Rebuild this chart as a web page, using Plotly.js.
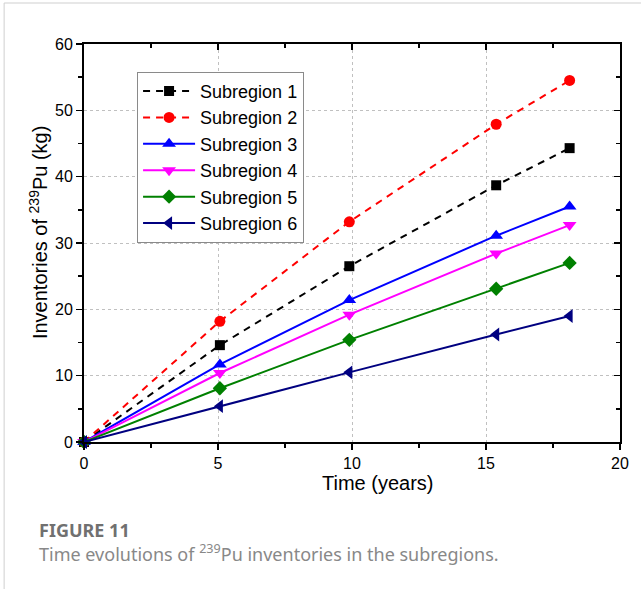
<!DOCTYPE html>
<html>
<head>
<meta charset="utf-8">
<script src="https://cdn.plot.ly/plotly-3.0.1.min.js"></script>
<style>
html,body{margin:0;padding:0;background:#fff;}
#chart{width:641px;height:589px;}
</style>
</head>
<body>
<div id="chart"></div>
<script>
// Data
const time = [0, 5.07, 9.9, 15.38, 18.12];
const seriesNames = ["Subregion 1", "Subregion 2", "Subregion 3", "Subregion 4", "Subregion 5", "Subregion 6"];
const sub1 = [0, 14.6, 26.5, 38.7, 44.3];
const sub2 = [0, 18.2, 33.2, 47.9, 54.5];
const sub3 = [0, 11.7, 21.4, 31.1, 35.5];
const sub4 = [0, 10.4, 19.2, 28.4, 32.7];
const sub5 = [0, 8.1, 15.4, 23.1, 27.0];
const sub6 = [0, 5.4, 10.5, 16.2, 19.0];
const xTicks = [0, 5, 10, 15, 20];
const yTicks = [0, 10, 20, 30, 40, 50, 60];
const xTitle = "Time (years)";
const yTitle = "Inventories of <sup>239</sup>Pu (kg)";

const allY = [sub1, sub2, sub3, sub4, sub5, sub6];
const colors = ["#000000", "#ff0000", "#0000ff", "#ff00ff", "#008000", "#000080"];
const symbols = ["square", "circle", "triangle-up", "triangle-down", "diamond", "triangle-left"];
const dashes = ["7px,6px", "7px,6px", "solid", "solid", "solid", "solid"];
const sizes = [10, 11, 12, 12, 11, 12];

const traces = allY.map((ys, i) => ({
  x: time, y: ys, name: seriesNames[i], type: "scatter", mode: "lines+markers",
  line: {color: colors[i], width: 2, dash: dashes[i]},
  marker: {color: colors[i], symbol: symbols[i], size: sizes[i]},
  cliponaxis: false
}));
// invisible trace to create mirrored top/right axes
traces.push({x: [0], y: [0], xaxis: "x2", yaxis: "y2", mode: "markers",
  marker: {opacity: 0}, showlegend: false, hoverinfo: "skip"});

const font = "Liberation Sans, Arial, sans-serif";
const capFont = "Noto Sans, Open Sans, sans-serif";

const layout = {
  width: 641, height: 589,
  margin: {l: 84, r: 21, t: 44, b: 147},
  paper_bgcolor: "#ffffff", plot_bgcolor: "#ffffff",
  showlegend: true,
  legend: {x: 0.099, y: 0.93, xanchor: "left", yanchor: "top",
    bgcolor: "#ffffff", bordercolor: "#8a8a8a", borderwidth: 1, itemwidth: 52,
    font: {family: font, size: 18, color: "#000"}, tracegroupgap: 0},
  xaxis: {range: [0, 20], tickvals: xTicks, ticktext: xTicks.map(String),
    ticks: "outside", ticklen: 6, tickwidth: 1.5, tickcolor: "#000",
    showline: true, linecolor: "#000", linewidth: 2, zeroline: false,
    showgrid: true, gridcolor: "#c0c0c0", griddash: "3px,3px", gridwidth: 1,
    minor: {dtick: 2.5, tick0: 0, ticks: "outside", ticklen: 4, tickwidth: 1.5, tickcolor: "#000", showgrid: false},
    tickfont: {family: font, size: 16, color: "#000"}},
  yaxis: {range: [0, 60], tickvals: yTicks, ticktext: yTicks.map(String),
    ticks: "outside", ticklen: 6, tickwidth: 1.5, tickcolor: "#000",
    showline: true, linecolor: "#000", linewidth: 2, zeroline: false,
    showgrid: true, gridcolor: "#c0c0c0", griddash: "3px,3px", gridwidth: 1,
    minor: {dtick: 5, tick0: 0, ticks: "outside", ticklen: 4, tickwidth: 1.5, tickcolor: "#000", showgrid: false},
    tickfont: {family: font, size: 16, color: "#000"}},
  xaxis2: {overlaying: "x", side: "top", range: [0, 20], tickvals: xTicks,
    showticklabels: false, ticks: "inside", ticklen: 6, tickwidth: 1.5, tickcolor: "#000",
    minor: {dtick: 2.5, tick0: 0, ticks: "inside", ticklen: 4, tickwidth: 1.5, tickcolor: "#000", showgrid: false},
    showline: true, linecolor: "#000", linewidth: 2, showgrid: false, zeroline: false},
  yaxis2: {overlaying: "y", side: "right", range: [0, 60], tickvals: yTicks,
    showticklabels: false, ticks: "inside", ticklen: 6, tickwidth: 1.5, tickcolor: "#000",
    minor: {dtick: 5, tick0: 0, ticks: "inside", ticklen: 4, tickwidth: 1.5, tickcolor: "#000", showgrid: false},
    showline: true, linecolor: "#000", linewidth: 2, showgrid: false, zeroline: false},
  shapes: [
    {type: "line", xref: "paper", yref: "paper", x0: -0.149, x1: -0.149, y0: 1.103, y1: -0.37,
      line: {color: "#cfcfcf", width: 1}},
    {type: "line", xref: "paper", yref: "paper", x0: -0.149, x1: 1.04, y0: 1.103, y1: 1.103,
      line: {color: "#cfcfcf", width: 1}}
  ],
  annotations: [
    {xref: "paper", yref: "paper", x: 0.547, y: -0.103, xanchor: "center", yanchor: "middle",
      showarrow: false, text: xTitle, font: {family: font, size: 20, color: "#000"}},
    {xref: "paper", yref: "paper", x: -0.0858, y: 0.525, xanchor: "center", yanchor: "middle",
      textangle: -90, showarrow: false, text: yTitle, font: {family: font, size: 20, color: "#000"}},
    {xref: "paper", yref: "paper", x: -0.0877, y: -0.221, xanchor: "left", yanchor: "middle",
      showarrow: false, text: "<b>FIGURE 11</b>", font: {family: capFont, size: 18, color: "#707070"}},
    {xref: "paper", yref: "paper", x: -0.0877, y: -0.278, xanchor: "left", yanchor: "middle",
      showarrow: false, text: "Time evolutions of <sup>239</sup>Pu inventories in the subregions.",
      font: {family: capFont, size: 18, color: "#888888"}}
  ]
};

Plotly.newPlot("chart", traces, layout, {displayModeBar: false, staticPlot: true});
</script>
</body>
</html>
